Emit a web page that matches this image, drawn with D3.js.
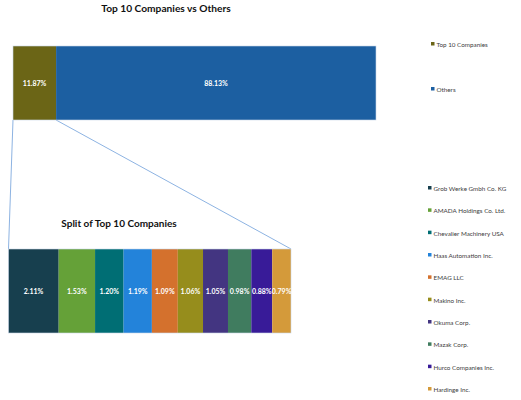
<!DOCTYPE html>
<html>
<head>
<meta charset="utf-8">
<script src="https://cdn.jsdelivr.net/npm/d3@7"></script>
<style>
	body { margin: 0; background: #fff; }
	text { font-family: Lato, "Open Sans", sans-serif; }
</style>
</head>
<body>
<div id="viz"></div>
<script>
// top bar: top 10 vs others
const topCategories = ["Top 10 Companies", "Others"];
const topValues = [11.87, 88.13];
const topColors = ["#6b6516", "#1c5fa1"];

// bottom bar: split of the top 10
const companies = [
	"Grob Werke Gmbh Co. KG",
	"AMADA Holdings Co. Ltd.",
	"Chevalier Machinery USA",
	"Haas Automation Inc.",
	"EMAG LLC",
	"Makino Inc.",
	"Okuma Corp.",
	"Mazak Corp.",
	"Hurco Companies Inc.",
	"Hardinge Inc."
];
const companyValues = [2.11, 1.53, 1.2, 1.19, 1.09, 1.06, 1.05, 0.98, 0.88, 0.79];
const companyColors = ["#173f4e", "#65a138", "#006e74", "#2383da", "#d4712d", "#968d1c", "#433581", "#407c5f", "#381b98", "#d49a3a"];

const width = 521, height = 400;

const svg = d3
	.select("#viz")
	.append("svg")
	.attr("width", width)
	.attr("height", height);

// stack helper: returns [{key, value, x0, x1}]
function stackRow(keys, values) {
	let acc = 0;
	return keys.map((k, i) => {
		const d = { key: k, value: values[i], x0: acc, x1: acc + values[i], i };
		acc += values[i];
		return d;
	});
}

const topData = stackRow(topCategories, topValues);
const botData = stackRow(companies, companyValues);

const xTop = d3.scaleLinear().domain([0, d3.sum(topValues)]).range([13, 376]);
const xBot = d3.scaleLinear().domain([0, d3.sum(companyValues)]).range([8.5, 291]);

const yTop = { y0: 46, y1: 120 };
const yBot = { y0: 249, y1: 333 };

// connector lines from the top 10 segment to the split bar
const connector = svg.append("g").attr("stroke", "#8db3e2").attr("stroke-width", 1);
connector
	.append("line")
	.attr("x1", xTop(0)).attr("y1", yTop.y1)
	.attr("x2", xBot(0)).attr("y2", yBot.y0);
connector
	.append("line")
	.attr("x1", xTop(topValues[0])).attr("y1", yTop.y1)
	.attr("x2", xBot(d3.sum(companyValues))).attr("y2", yBot.y0);

// titles
svg.append("text")
	.attr("x", 166).attr("y", 12)
	.attr("text-anchor", "middle")
	.attr("font-weight", "bold")
	.attr("font-size", 10.2)
	.attr("fill", "#111")
	.text("Top 10 Companies vs Others");

svg.append("text")
	.attr("x", 119).attr("y", 227)
	.attr("text-anchor", "middle")
	.attr("font-weight", "bold")
	.attr("font-size", 10)
	.attr("fill", "#111")
	.text("Split of Top 10 Companies");

// bars
function drawBar(data, x, yb, colors) {
	const g = svg.append("g");
	g.selectAll("rect")
		.data(data)
		.join("rect")
		.attr("x", (d) => x(d.x0))
		.attr("y", yb.y0)
		.attr("width", (d) => x(d.x1) - x(d.x0))
		.attr("height", yb.y1 - yb.y0)
		.attr("fill", (d) => colors[d.i]);
	g.append("rect")
		.attr("x", x.range()[0])
		.attr("y", yb.y0)
		.attr("width", x.range()[1] - x.range()[0])
		.attr("height", yb.y1 - yb.y0)
		.attr("fill", "none")
		.attr("stroke", "#c9d6e8")
		.attr("stroke-width", 0.6);
	g.selectAll("text")
		.data(data)
		.join("text")
		.attr("x", (d) => (x(d.x0) + x(d.x1)) / 2)
		.attr("y", (yb.y0 + yb.y1) / 2 + 2.5)
		.attr("text-anchor", "middle")
		.attr("font-size", 7)
		.attr("font-weight", "bold")
		.attr("fill", "#fff")
		.text((d) => d.value.toFixed(2) + "%");
}

drawBar(topData, xTop, yTop, topColors);
drawBar(botData, xBot, yBot, companyColors);

// legends
function drawLegend(keys, colors, x0, yScale) {
	const g = svg.append("g");
	const item = g.selectAll("g")
		.data(keys)
		.join("g")
		.attr("transform", (d, i) => `translate(${x0},${yScale(i)})`);
	item.append("rect")
		.attr("x", 0).attr("y", -3)
		.attr("width", 3.5).attr("height", 3.5)
		.attr("fill", (d, i) => colors[i]);
	item.append("text")
		.attr("x", 5.5).attr("y", 0.5)
		.attr("dominant-baseline", "middle")
		.attr("font-size", 6.3)
		.attr("fill", "#404040")
		.text((d) => d);
}

drawLegend(topCategories, topColors, 431, d3.scaleLinear().domain([0, 1]).range([45, 90]));
drawLegend(companies, companyColors, 428, d3.scaleLinear().domain([0, 9]).range([189, 390]));
</script>
</body>
</html>
